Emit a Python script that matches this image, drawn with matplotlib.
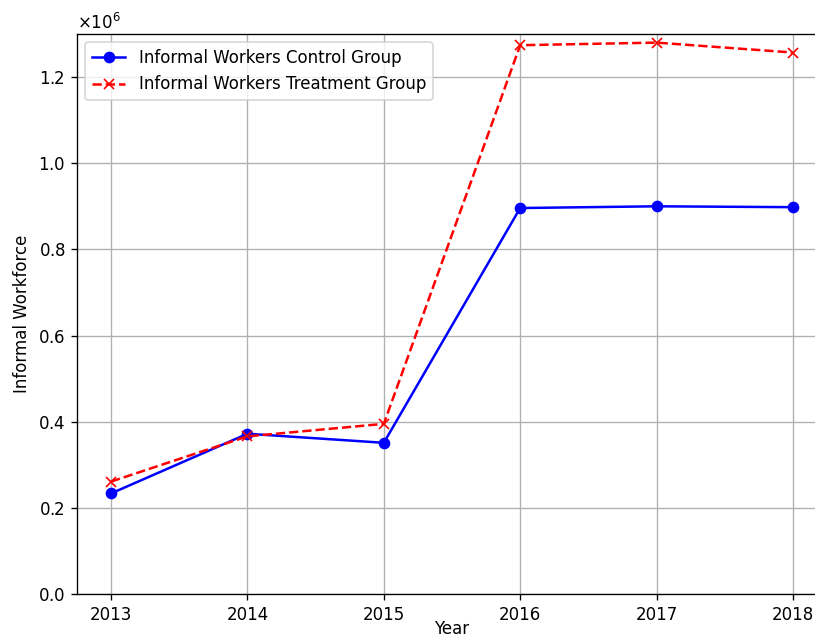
import numpy as np
import matplotlib
matplotlib.use('Agg')
import matplotlib.pyplot as plt

years = [2013, 2014, 2015, 2016, 2017, 2018]
control = [233500, 372000, 351000, 896000, 900000, 898000]
treatment = [261000, 366000, 395000, 1274000, 1280000, 1257000]

fig = plt.figure(figsize=(815/120, 641/120), dpi=120)
# axes run a bit past the right edge, as in the cropped original
ax = fig.add_axes([77/815, 47/641, 750/815, 560/641])

ax.plot(years, control, marker='o', color='blue', linestyle='-', label='Informal Workers Control Group')
ax.plot(years, treatment, marker='x', color='red', linestyle='--', label='Informal Workers Treatment Group')

ax.set_ylim(0, 1.3e6)
ax.set_xlabel('Year', labelpad=-2.5)
ax.set_ylabel('Informal Workforce')
ax.ticklabel_format(axis='y', style='sci', scilimits=(0, 0), useMathText=True)
ax.legend(loc='upper left')
ax.grid(True)

fig.savefig('out.png', dpi=120)
